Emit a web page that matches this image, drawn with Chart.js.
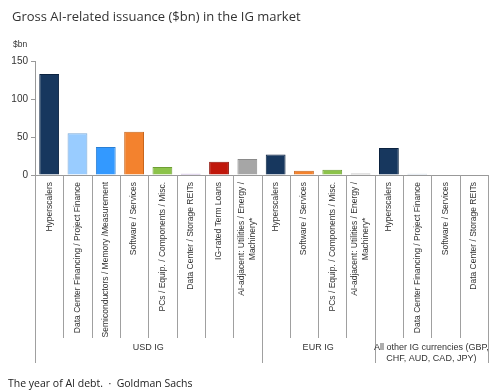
<!DOCTYPE html>
<html>
<head>
<meta charset="utf-8">
<script src="https://cdn.jsdelivr.net/npm/chart.js@4.4.1/dist/chart.umd.min.js"></script>
<style>
  html, body { margin: 0; padding: 0; background: #fff; }
  #wrap { position: relative; width: 500px; height: 391px; }
  #title { position: absolute; left: 12px; top: 7px; font: 13px "Open Sans", sans-serif; color: #333; white-space: nowrap; }
  #foot { position: absolute; left: 8px; top: 376px; font: 10.5px "Open Sans", sans-serif; color: #222; white-space: nowrap; }
</style>
</head>
<body>
<div id="wrap">
  <canvas id="chart" width="500" height="391"></canvas>
  <div id="title">Gross AI-related issuance ($bn) in the IG market</div>
  <div id="foot">The year of AI debt. &nbsp;·&nbsp; Goldman Sachs</div>
</div>
<script>
// categories (each one is a list of label lines)
const categories = [
    ["Hyperscalers"],
    ["Data Center Financing / Project Finance"],
    ["Semiconductors / Memory /Measurement"],
    ["Software / Services"],
    ["PCs / Equip. / Components / Misc."],
    ["Data Center / Storage REITs"],
    ["IG-rated Term Loans"],
    ["AI-adjacent: Utilities / Energy /", "Machinery*"],
    ["Hyperscalers"],
    ["Software / Services"],
    ["PCs / Equip. / Components / Misc."],
    ["AI-adjacent: Utilities / Energy /", "Machinery*"],
    ["Hyperscalers"],
    ["Data Center Financing / Project Finance"],
    ["Software / Services"],
    ["Data Center / Storage REITs"]
];
const issuance = [133, 55, 37, 57, 10.5, 1.5, 17.5, 21, 27, 5.5, 7, 2, 35.5, 1.5, 0, 0];

// currency groups and how many categories each spans
const groups = [
    ["USD IG"],
    ["EUR IG"],
    ["All other IG currencies (GBP,", "CHF, AUD, CAD, JPY)"]
];
const groupSizes = [8, 4, 4];

const yTicks = [0, 50, 100, 150];

const fills = ['#17375e', '#99ccff', '#3399ff', '#f3822e', '#8cc34a', '#9a70c8', '#c0170b', '#a6a6a6',
               '#17375e', '#f3822e', '#8cc34a', '#a6a6a6',
               '#17375e', '#b3c8dc', '#a6a6a6', '#a6a6a6'];
const edges = ['#0c2340', '#7aa8d6', '#2a7fd4', '#c8651c', '#6e9f34', '#7b55a8', '#8e0f06', '#8a8a8a',
               '#0c2340', '#c8651c', '#6e9f34', '#8a8a8a',
               '#0c2340', '#90a8bf', '#8a8a8a', '#8a8a8a'];

const LABEL_TOP = 182;
const CAT_LINE_END = 338;
const GROUP_LINE_END = 363;
const GROUP_LABEL_Y = 348;

const bottomLabels = {
    id: 'bottomLabels',
    afterDraw(chart) {
        const ctx = chart.ctx;
        const xs = chart.scales.x;
        const base = chart.chartArea.bottom;
        const step = xs.getPixelForValue(1) - xs.getPixelForValue(0);
        const edge = (i) => Math.round(xs.getPixelForValue(i) - step / 2) + 0.5;

        ctx.save();
        ctx.strokeStyle = '#a0a0a0';
        ctx.lineWidth = 1;

        // separators between categories, longer ones between groups
        const groupStarts = [0];
        groupSizes.forEach((n, g) => groupStarts.push(groupStarts[g] + n));
        for (let i = 0; i <= categories.length; i++) {
            const x = edge(i);
            ctx.beginPath();
            ctx.moveTo(x, base);
            ctx.lineTo(x, groupStarts.includes(i) ? GROUP_LINE_END : CAT_LINE_END);
            ctx.stroke();
        }

        // rotated category labels
        ctx.fillStyle = '#333';
        ctx.font = '8.5px "Liberation Sans", Arial, sans-serif';
        ctx.textAlign = 'center';
        ctx.textBaseline = 'middle';
        categories.forEach((lines, i) => {
            const x = xs.getPixelForValue(i);
            const w = Math.max(...lines.map(l => ctx.measureText(l).width));
            ctx.save();
            ctx.translate(x, LABEL_TOP);
            ctx.rotate(-Math.PI / 2);
            lines.forEach((l, k) => {
                ctx.fillText(l, -w / 2, (k - (lines.length - 1) / 2) * 11);
            });
            ctx.restore();
        });

        // group labels
        ctx.font = '9px "Liberation Sans", Arial, sans-serif';
        groups.forEach((lines, g) => {
            const x0 = xs.getPixelForValue(groupStarts[g]) - step / 2;
            const x1 = xs.getPixelForValue(groupStarts[g + 1] - 1) + step / 2;
            lines.forEach((l, k) => {
                ctx.fillText(l, (x0 + x1) / 2, GROUP_LABEL_Y + k * 11);
            });
        });

        // unit label
        ctx.textAlign = 'left';
        ctx.font = '8.5px "Liberation Sans", Arial, sans-serif';
        ctx.fillText('$bn', 13, 45);
        ctx.restore();
    }
};

const ctx = document.getElementById('chart').getContext('2d');

new Chart(ctx, {
    type: 'bar',
    data: {
        labels: categories.map(c => c.join(' ')),
        datasets: [{
            data: issuance,
            backgroundColor: fills,
            borderColor: edges,
            borderWidth: 1,
            barPercentage: 0.7,
            categoryPercentage: 1
        }]
    },
    plugins: [bottomLabels],
    options: {
        responsive: false,
        animation: false,
        layout: { padding: { left: 0, right: 12, top: 61, bottom: 216 } },
        plugins: {
            legend: { display: false },
            tooltip: { enabled: false }
        },
        scales: {
            x: {
                grid: { display: false, drawTicks: false },
                ticks: { display: false },
                border: { display: true, color: '#999' },
                afterFit(scale) { scale.height = 0; }
            },
            y: {
                min: 0,
                max: 150,
                afterBuildTicks(scale) { scale.ticks = yTicks.map(v => ({ value: v })); },
                ticks: {
                    color: '#333',
                    padding: 3,
                    font: { family: '"Liberation Sans", Arial, sans-serif', size: 10 }
                },
                grid: { drawOnChartArea: false, drawTicks: true, tickLength: 4, color: '#999' },
                border: { display: true, color: '#999' },
                afterFit(scale) { scale.width = 35; }
            }
        }
    }
});
</script>
</body>
</html>
